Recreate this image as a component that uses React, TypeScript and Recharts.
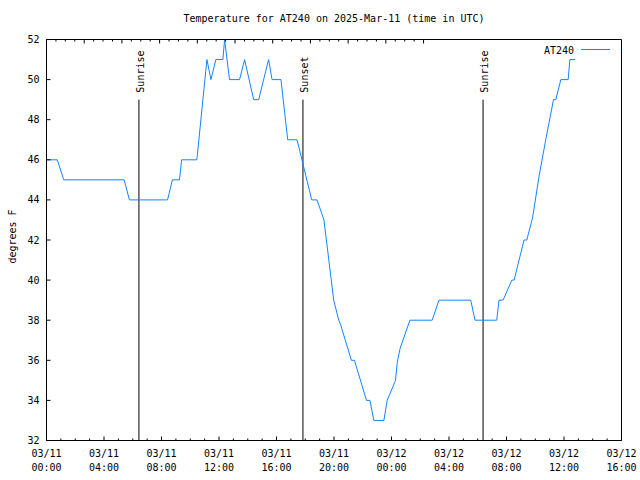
import { Legend, Line, LineChart, ReferenceLine, XAxis, YAxis } from "recharts";

// hours since 03/11 00:00 UTC, and the reading (deg F) at that time
const hours = [
  0, 0.75, 1.2, 5.4, 5.77, 8.42, 8.76, 9.25, 9.4, 10.46, 11.16, 11.44, 11.78, 12.27, 12.39, 12.73,
  13.43, 13.78, 14.41, 14.76, 15.45, 15.69, 16.31, 16.78, 17.43, 18.45, 18.82, 19.3, 19.98, 20.33,
  20.45, 21.21, 21.42, 22.26, 22.5, 22.77, 23.47, 23.7, 24.28, 24.4, 24.6, 25.28, 26.83, 27.3, 29.51,
  29.81, 31.32, 31.48, 31.76, 32.37, 32.53, 33.22, 33.41, 33.81, 34.27, 34.73, 35.27, 35.43, 35.78,
  36.29, 36.41, 36.78,
];
const temps = [
  46, 46, 45, 45, 44, 44, 45, 45, 46, 46, 51, 50, 51, 51, 52, 50,
  50, 51, 49, 49, 51, 50, 50, 47, 47, 44, 44, 43, 39, 38,
  37.8, 36, 36, 34, 34, 33, 33, 34, 35, 35.9, 36.6, 38, 38, 39, 39,
  38, 38, 39, 39, 40, 40, 42, 42, 43.1, 45.2, 47, 49, 49, 50,
  50, 51, 51,
];

const eventNames = ["Sunrise", "Sunset", "Sunrise"];
const eventHours = [6.43, 17.84, 30.37];

const dayLabels = ["03/11", "03/11", "03/11", "03/11", "03/11", "03/11", "03/12", "03/12", "03/12", "03/12", "03/12"];
const timeLabels = ["00:00", "04:00", "08:00", "12:00", "16:00", "20:00", "00:00", "04:00", "08:00", "12:00", "16:00"];
const xTicks = Array.from({ length: 41 }, (_, i) => i);
const yTicks = [32, 34, 36, 38, 40, 42, 44, 46, 48, 50, 52];

const FONT = "'DejaVu Sans Mono', monospace";
const BLUE = "#1384ff";

const data = hours.map((h, i) => ({ h, t: temps[i] }));

function BottomTick({ x, y, payload }: any) {
  const v = payload.value;
  const major = v % 4 === 0;
  return (
    <g>
      <line x1={x} x2={x} y1={y} y2={y - (major ? 4 : 2)} stroke="#000" />
      {major && (
        <text x={x} y={y} textAnchor="middle" fontFamily={FONT} fontSize={10} fill="#000">
          <tspan x={x} dy={16.5}>{dayLabels[v / 4]}</tspan>
          <tspan x={x} dy={14}>{timeLabels[v / 4]}</tspan>
        </text>
      )}
    </g>
  );
}

function TopTick({ x, y, payload }: any) {
  const major = payload.value % 4 === 0;
  return <line x1={x} x2={x} y1={y} y2={y + (major ? 4 : 2)} stroke="#000" />;
}

function LeftTick({ x, y, payload }: any) {
  return (
    <g>
      <line x1={x} x2={x + 4} y1={y} y2={y} stroke="#000" />
      <text x={x - 7} y={y + 3.5} textAnchor="end" fontFamily={FONT} fontSize={10} fill="#000">
        {payload.value}
      </text>
    </g>
  );
}

function RightTick({ x, y }: any) {
  return <line x1={x} x2={x - 4} y1={y} y2={y} stroke="#000" />;
}

function EventLabel({ viewBox, text }: any) {
  const x = viewBox.x + 5;
  const y = viewBox.y - 7;
  return (
    <text x={x} y={y} transform={`rotate(-90 ${x} ${y})`} fontFamily={FONT} fontSize={10} fill="#000">
      {text}
    </text>
  );
}

function AxisTitle() {
  return (
    <text x={15.5} y={236.5} transform="rotate(-90 15.5 236.5)" textAnchor="middle" fontFamily={FONT} fontSize={10} fill="#000">
      degrees F
    </text>
  );
}

function KeyBox() {
  return (
    <svg width={80} height={14} style={{ display: "block" }}>
      <text x={34} y={10.5} textAnchor="end" fontFamily={FONT} fontSize={10} fill="#000">
        AT240
      </text>
      <line x1={41} x2={70} y1={6.5} y2={6.5} stroke={BLUE} />
    </svg>
  );
}

export default function App() {
  return (
    <div style={{ position: "absolute", left: 0, top: 0, width: 640, height: 480, background: "#fff" }}>
      <div
        style={{
          position: "absolute",
          left: 46,
          top: 12,
          width: 576,
          textAlign: "center",
          fontFamily: FONT,
          fontSize: 10,
          lineHeight: "14px",
          color: "#000",
        }}
      >
        Temperature for AT240 on 2025-Mar-11 (time in UTC)
      </div>
      <LineChart width={640} height={480} data={data} margin={{ top: 29.5, right: 8.5, bottom: 9.5, left: 6.5 }}>
        <XAxis
          xAxisId="bottom"
          dataKey="h"
          type="number"
          domain={[0, 40]}
          ticks={xTicks}
          interval={0}
          height={30}
          tickSize={0}
          tickMargin={0}
          tickLine={false}
          axisLine={{ stroke: "#000" }}
          tick={<BottomTick />}
        />
        <XAxis
          xAxisId="top"
          orientation="top"
          type="number"
          domain={[0, 40]}
          ticks={xTicks}
          interval={0}
          height={10}
          tickSize={0}
          tickMargin={0}
          tickLine={false}
          axisLine={{ stroke: "#000" }}
          tick={<TopTick />}
        />
        <YAxis
          yAxisId="left"
          type="number"
          domain={[32, 52]}
          ticks={yTicks}
          interval={0}
          width={40}
          tickSize={0}
          tickMargin={0}
          tickLine={false}
          axisLine={{ stroke: "#000" }}
          tick={<LeftTick />}
          label={<AxisTitle />}
        />
        <YAxis
          yAxisId="right"
          orientation="right"
          type="number"
          domain={[32, 52]}
          ticks={yTicks}
          interval={0}
          width={10}
          tickSize={0}
          tickMargin={0}
          tickLine={false}
          axisLine={{ stroke: "#000" }}
          tick={<RightTick />}
        />
        <Legend
          layout="vertical"
          align="center"
          verticalAlign="middle"
          wrapperStyle={{ top: 43, left: 540, width: 80 }}
          content={<KeyBox />}
        />
        {eventHours.map((h, i) => (
          <ReferenceLine
            key={i}
            xAxisId="bottom"
            yAxisId="left"
            segment={[
              { x: h, y: 49 },
              { x: h, y: 32 },
            ]}
            stroke="#000"
            label={(p: any) => <EventLabel {...p} text={eventNames[i]} />}
          />
        ))}
        <Line
          xAxisId="bottom"
          yAxisId="left"
          type="linear"
          dataKey="t"
          name="AT240"
          stroke={BLUE}
          strokeWidth={1}
          dot={false}
          isAnimationActive={false}
        />
      </LineChart>
    </div>
  );
}
